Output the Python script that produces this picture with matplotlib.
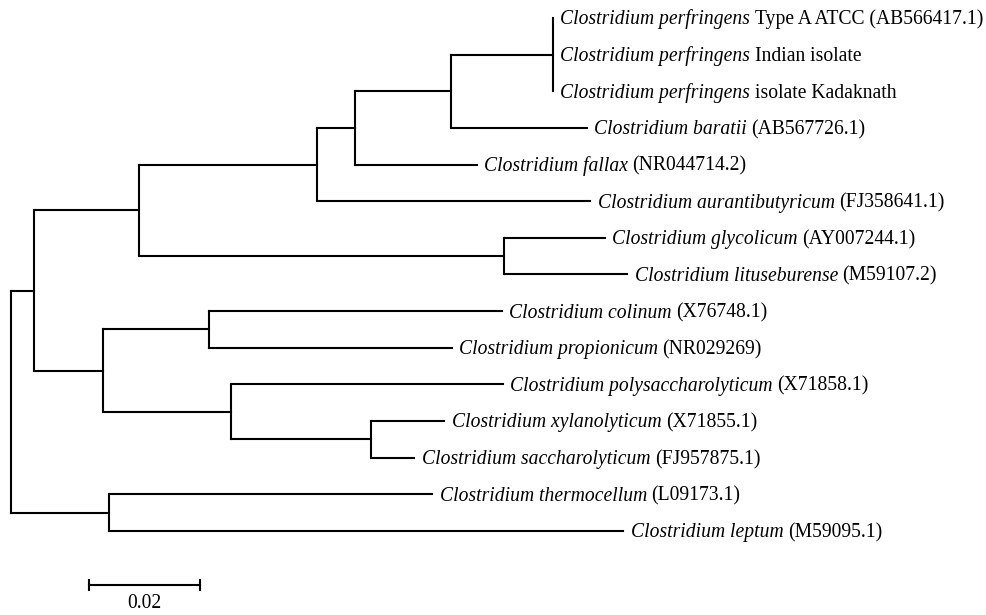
import matplotlib
matplotlib.use("Agg")
import matplotlib.pyplot as plt
from matplotlib.transforms import offset_copy

# Leaves, top to bottom
species = [
    "Clostridium perfringens", "Clostridium perfringens", "Clostridium perfringens",
    "Clostridium baratii", "Clostridium fallax", "Clostridium aurantibutyricum",
    "Clostridium glycolicum", "Clostridium lituseburense", "Clostridium colinum",
    "Clostridium propionicum", "Clostridium polysaccharolyticum",
    "Clostridium xylanolyticum", "Clostridium saccharolyticum",
    "Clostridium thermocellum", "Clostridium leptum",
]
suffixes = [
    "Type A ATCC (AB566417.1)", "Indian isolate", "isolate Kadaknath",
    "(AB567726.1)", "(NR044714.2)", "(FJ358641.1)", "(AY007244.1)",
    "(M59107.2)", "(X76748.1)", "(NR029269)", "(X71858.1)", "(X71855.1)",
    "(FJ957875.1)", "(L09173.1)", "(M59095.1)",
]
leaf_parent = ["H", "H", "H", "G", "F", "D", "E", "E", "I", "I", "J", "K", "K", "L", "L"]
leaf_length = [0.0, 0.0, 0.0, 0.0245, 0.0220, 0.0492, 0.0182, 0.0222,
               0.0528, 0.0438, 0.0490, 0.0133, 0.0079, 0.0582, 0.0926]

# Internal nodes
inner_nodes = ["A", "L", "B", "C", "D", "E", "F", "G", "H", "I", "J", "K"]
inner_parent = ["root", "root", "A", "A", "B", "B", "D", "F", "G", "C", "C", "J"]
inner_length = [0.0041, 0.0177, 0.0189, 0.0124, 0.0321, 0.0658,
                0.0068, 0.0173, 0.0184, 0.0191, 0.0231, 0.0252]

scale_value = 0.02

# build tree
parent = {}
length = {}
for n, p, l in zip(inner_nodes, inner_parent, inner_length):
    parent[n] = p
    length[n] = l
leaves = [f"leaf{i}" for i in range(len(species))]
for n, p, l in zip(leaves, leaf_parent, leaf_length):
    parent[n] = p
    length[n] = l

children = {}
for n, p in parent.items():
    children.setdefault(p, []).append(n)

xpos = {"root": 0.0}
def get_x(n):
    if n not in xpos:
        xpos[n] = get_x(parent[n]) + length[n]
    return xpos[n]
for n in parent:
    get_x(n)

ypos = {n: i for i, n in enumerate(leaves)}
def get_y(n):
    if n not in ypos:
        ys = [get_y(c) for c in children[n]]
        ypos[n] = (min(ys) + max(ys)) / 2
    return ypos[n]
get_y("root")

# pixel mapping: x_px = 11 + 5550 * dist ; y_px = 18 + 36.64 * idx
px_per_unit = 5550
px_per_row = 36.64
W, H = 987, 615
fig = plt.figure(figsize=(W / 100, H / 100), dpi=100)
ax = fig.add_axes([0, 0, 1, 1])
ax.set_xlim(-11 / px_per_unit, (W - 11) / px_per_unit)
ax.set_ylim((H - 18) / px_per_row, -18 / px_per_row)
ax.axis("off")

lw = 1.5
for n, kids in children.items():
    ys = [ypos[c] for c in kids]
    ax.plot([xpos[n], xpos[n]], [min(ys), max(ys)], color="black", lw=lw,
            solid_capstyle="projecting")
    for c in kids:
        if length[c] > 0:
            ax.plot([xpos[n], xpos[c]], [ypos[c], ypos[c]], color="black", lw=lw,
                    solid_capstyle="projecting")

fs = 14.1
font = "Liberation Serif"
label_tr = offset_copy(ax.transData, fig=fig, x=5.5, y=-4.6, units="points")
suffix_tr = offset_copy(ax.transData, fig=fig, x=0, y=-4.6, units="points")
renderer = fig.canvas.get_renderer()
space_px = fs * 0.22 * 100 / 72
for i, n in enumerate(leaves):
    t = ax.text(xpos[n], ypos[n], species[i], transform=label_tr, fontsize=fs,
                family=font, style="italic", va="baseline", ha="left")
    bb = t.get_window_extent(renderer)
    x_end = ax.transData.inverted().transform((bb.x1 + space_px, 0))[0]
    ax.text(x_end, ypos[n], suffixes[i], transform=suffix_tr,
            fontsize=fs, family=font, va="baseline", ha="left")

# scale bar
sb_x0 = (89 - 11) / px_per_unit
sb_y = (585 - 18) / px_per_row
ax.plot([sb_x0, sb_x0 + scale_value], [sb_y, sb_y], color="black", lw=lw,
        marker="|", markersize=8, markeredgewidth=lw)
ax.text(sb_x0 + scale_value / 2, (604 - 18) / px_per_row, f"{scale_value:.2f}",
        fontsize=fs, family=font, ha="center", va="center")

fig.savefig("out.png", dpi=100)
